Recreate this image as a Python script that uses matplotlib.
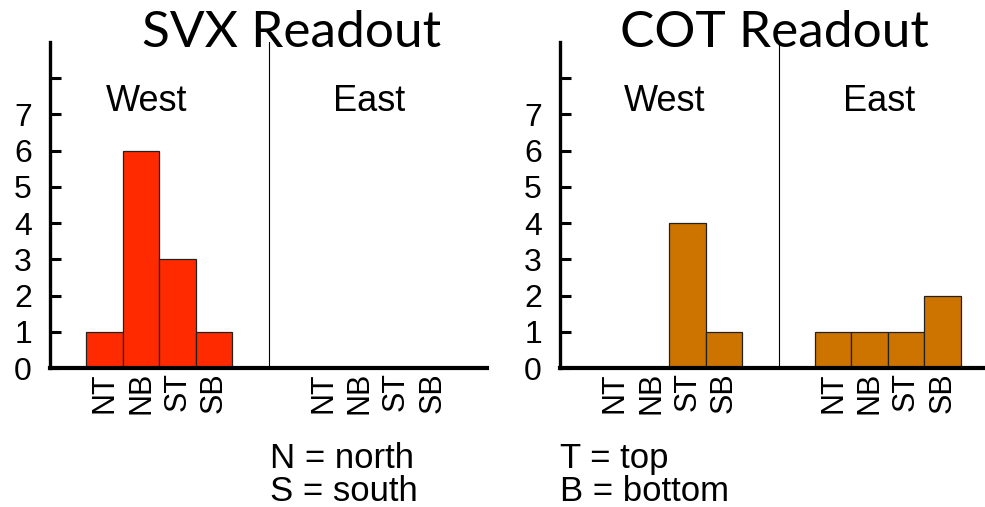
import matplotlib
matplotlib.use("Agg")
import matplotlib.pyplot as plt
import numpy as np

# Readout counts per layer position
categories = ["NT", "NB", "ST", "SB"]
svx_west = [1, 6, 3, 1]
svx_east = [0, 0, 0, 0]
cot_west = [0, 0, 4, 1]
cot_east = [1, 1, 1, 2]

panel_titles = ["SVX Readout", "COT Readout"]
legend_left = ["N = north", "S = south"]
legend_right = ["T = top", "B = bottom"]

W, H = 985, 507
fig = plt.figure(figsize=(W / 100, H / 100), dpi=100)

label_font = "Liberation Sans"
title_font = "Lato"


def draw_panel(ax, west, east, color, west_label_x):
    west_x = np.arange(len(west)) + 1.5
    east_x = np.arange(len(east)) + 7.5
    ax.bar(west_x, west, width=1.0, color=color, edgecolor="#222222", linewidth=0.9)
    ax.bar(east_x, east, width=1.0, color=color, edgecolor="#222222", linewidth=0.9)
    ax.axvline(6, color="black", linewidth=0.8)

    ax.set_xlim(0, 12)
    ax.set_ylim(0, 9)
    ax.set_yticks(range(0, 9))
    ax.set_yticklabels([str(i) for i in range(8)] + [""],
                       fontsize=23, family=label_font)
    ax.tick_params(axis="y", direction="in", length=8, width=2.2, pad=13)

    ax.set_xticks(list(west_x) + list(east_x))
    ax.set_xticklabels(categories * 2, rotation=90, fontsize=22, family=label_font)
    ax.tick_params(axis="x", length=0, pad=3)

    for side in ["top", "right"]:
        ax.spines[side].set_visible(False)
    ax.spines["left"].set_linewidth(2.4)
    ax.spines["bottom"].set_linewidth(3.0)

    ax.text(west_label_x, 7.35, "West", ha="center", va="center",
            fontsize=26, family=label_font)
    ax.text(8.76, 7.35, "East", ha="center", va="center",
            fontsize=26, family=label_font)


ax_w = 437
y_top, y_bot = 42, 368
ax1 = fig.add_axes([50 / W, (H - y_bot) / H, ax_w / W, (y_bot - y_top) / H])
ax2 = fig.add_axes([560 / W, (H - y_bot) / H, ax_w / W, (y_bot - y_top) / H])

draw_panel(ax1, svx_west, svx_east, "#ff2a00", 2.66)
draw_panel(ax2, cot_west, cot_east, "#cc7300", 2.88)

fig.text(292 / W, 1 - 33 / H, panel_titles[0], ha="center", va="center",
         fontsize=37, family=title_font)
fig.text(774 / W, 1 - 33 / H, panel_titles[1], ha="center", va="center",
         fontsize=37, family=title_font)

fig.text(270 / W, 1 - 468 / H, legend_left[0], ha="left", va="baseline",
         fontsize=25, family=label_font)
fig.text(270 / W, 1 - 501 / H, legend_left[1], ha="left", va="baseline",
         fontsize=25, family=label_font)
fig.text(560 / W, 1 - 468 / H, legend_right[0], ha="left", va="baseline",
         fontsize=25, family=label_font)
fig.text(560 / W, 1 - 501 / H, legend_right[1], ha="left", va="baseline",
         fontsize=25, family=label_font)

fig.savefig("out.png", dpi=100)
